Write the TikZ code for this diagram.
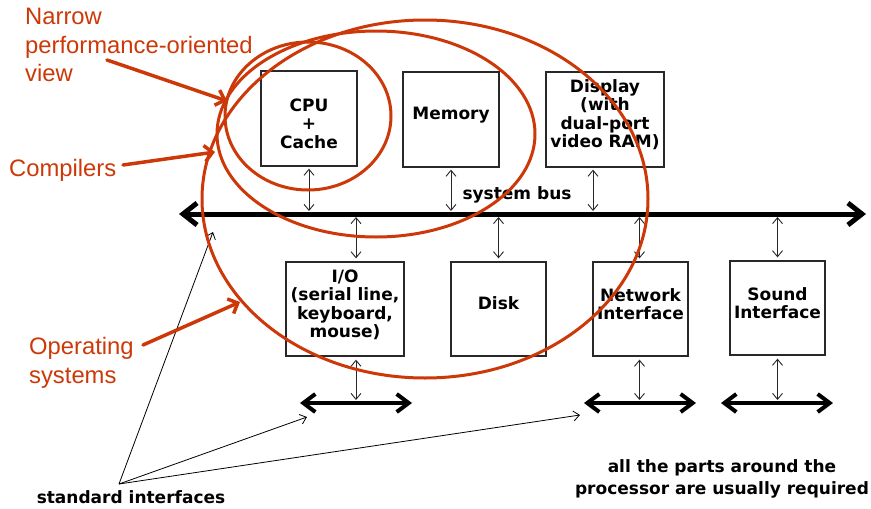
\documentclass[tikz,border=0pt]{standalone}
\usepackage{fontspec}
\setmainfont{Liberation Sans}
\newfontfamily\labelfont{DejaVu Sans}
\usetikzlibrary{arrows.meta,calc}
\definecolor{rust}{RGB}{205,56,8}
\definecolor{edge}{RGB}{40,40,40}

\begin{document}
\begin{tikzpicture}[x=1pt,y=-1pt,
  box/.style={draw=edge, line width=1.3pt, minimum width=#1, minimum height=95pt, inner sep=0pt},
  box/.default=96pt,
  boxtext/.style={align=center, font=\labelfont\bfseries\fontsize{17}{18.5}\selectfont, inner sep=0pt},
  plain/.style={font=\labelfont\bfseries\fontsize{17}{22}\selectfont, inner sep=0pt, align=center},
  note/.style={text=rust, font=\fontsize{23.8}{28.5}\selectfont, inner sep=0pt, align=left, anchor=west},
  link/.style={draw=edge, line width=0.9pt, {Straight Barb[length=6pt,width=10pt]}-{Straight Barb[length=6pt,width=10pt]}},
  pointer/.style={line width=0.8pt, -{Straight Barb[length=6pt,width=10pt]}},
  mainbus/.style={line width=5pt, {Straight Barb[length=14pt,width=22pt]}-{Straight Barb[length=14pt,width=22pt]}},
  subbus/.style={line width=4pt, {Straight Barb[length=12pt,width=18pt]}-{Straight Barb[length=12pt,width=18pt]}},
  oval/.style={draw=rust, line width=3pt},
  callout/.style={draw=rust, line width=3.5pt, line cap=round, -{Straight Barb[length=8pt,width=16pt]}}
]
\useasboundingbox (0,0) rectangle (871,509);

% components above the bus
\node[box] (cpu) at (309,118.5) {};
\node[boxtext] at ($(cpu)+(0,5)$) {CPU\\+\\Cache};
\node[box] (mem) at (451,119.5) {};
\node[boxtext] at ($(mem)+(0,-4)$) {Memory};
\node[box=118pt] (disp) at (605,119.5) {};
\node[boxtext] at ($(disp)+(0,-5)$) {Display\\(with\\dual-port\\video RAM)};

% components below the bus
\node[box=118pt, minimum height=94pt] (io) at (345,309) {};
\node[boxtext] at ($(io)+(0,-4)$) {I/O\\(serial line,\\keyboard,\\mouse)};
\node[box=95pt, minimum height=94pt] (disk) at (498.5,309) {};
\node[boxtext] at ($(disk)+(0,-6)$) {Disk};
\node[box=95pt, minimum height=94pt] (net) at (640.5,309) {};
\node[boxtext] at ($(net)+(0,-5)$) {Network\\Interface};
\node[box=95pt, minimum height=94pt] (snd) at (777.5,308) {};
\node[boxtext] at ($(snd)+(0,-5)$) {Sound\\Interface};

% system bus
\coordinate (busL) at (179,214);
\coordinate (busR) at (866,214);
\draw[mainbus] (busL) -- (busR);
\node[plain] (buslabel) at (517,195) {system bus};

% taps onto the system bus
\draw[link] (cpu.south) ++(0,2) -- (cpu.south |- 0,211);
\draw[link] (mem.south) ++(0,2) -- (mem.south |- 0,211);
\draw[link] ($(disp.south)+(-12,2)$) -- ($(disp.south |- 0,211)+(-12,0)$);
\draw[link] ($(io.north |- 0,217)+(11,0)$) -- ($(io.north)+(11,-3)$);
\draw[link] (disk.north |- 0,217) -- ($(disk.north)+(0,-3)$);
\draw[link] ($(net.north |- 0,217)+(-1,0)$) -- ($(net.north)+(-1,-3)$);
\draw[link] (snd.north |- 0,217) -- ($(snd.north)+(0,-3)$);

% peripheral buses
\coordinate (ioL) at (300,403);  \coordinate (ioR) at (412,403);
\coordinate (netL) at (584,403); \coordinate (netR) at (696,403);
\coordinate (sndL) at (721,403); \coordinate (sndR) at (833,403);
\draw[subbus] (ioL) -- (ioR);
\draw[subbus] (netL) -- (netR);
\draw[subbus] (sndL) -- (sndR);
\draw[link] ($(io.south)+(11,3)$) -- ($(io.south |- 0,400)+(11,0)$);
\draw[link] ($(net.south)+(-1,3)$) -- ($(net.south |- 0,400)+(-1,0)$);
\draw[link] ($(snd.south)+(0,3)$) -- (snd.south |- 0,400);

% standard interfaces
\node[plain] (std) at (131,497) {standard interfaces};
\coordinate (stdO) at (119,484);
\draw[pointer] (stdO) -- (213,232);
\draw[pointer] (stdO) -- (307,417);
\draw[pointer] (stdO) -- (580,415);

\node[plain] (req) at (722,479) {all the parts around the\\processor are usually required};

% scopes of the software views
\draw[oval] (308,116) ellipse [x radius=83pt, y radius=74pt];
\draw[oval] (376,134) ellipse [x radius=159pt, y radius=103pt];
\draw[oval] (425,199) ellipse [x radius=223pt, y radius=179pt];

\node[note] (narrow) at (25,45) {Narrow\\performance-oriented\\view};
\node[note] (comp) at (9,170) {Compilers};
\node[note] (os) at (29,363) {Operating\\systems};
\draw[callout] (107,60) -- (227,101);
\draw[callout] (123,165) -- (215,152);
\draw[callout] (143,345) -- (240,302);
\end{tikzpicture}
\end{document}
